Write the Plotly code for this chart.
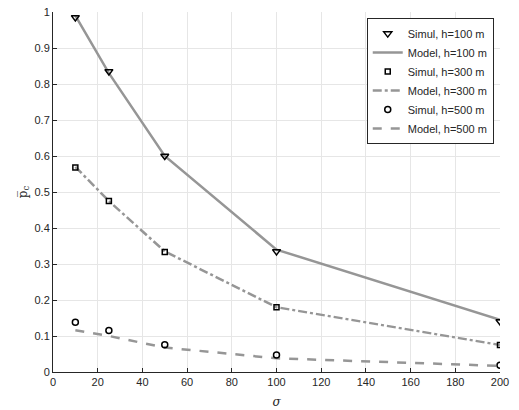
import plotly.graph_objects as go

sigma = [10, 25, 50, 100, 200]
simul_100 = [0.985, 0.835, 0.600, 0.335, 0.140]
model_100 = [0.990, 0.830, 0.600, 0.340, 0.145]
simul_300 = [0.568, 0.475, 0.333, 0.180, 0.075]
model_300 = [0.570, 0.475, 0.335, 0.180, 0.075]
simul_500 = [0.138, 0.115, 0.076, 0.047, 0.019]
model_500 = [0.116, 0.100, 0.068, 0.038, 0.017]

x_ticks = list(range(0, 201, 20))
y_ticks = [i / 10 for i in range(11)]
y_tick_labels = ["0", "0.1", "0.2", "0.3", "0.4", "0.5", "0.6", "0.7", "0.8", "0.9", "1"]

gray = "rgb(150,150,150)"
fig = go.Figure()

def simul(y, name, symbol, size):
    fig.add_trace(go.Scatter(x=sigma, y=y, mode="markers", name=name,
                             marker=dict(symbol=symbol, size=size, color="black",
                                         line=dict(color="black", width=1.5))))

def model(y, name, dash):
    fig.add_trace(go.Scatter(x=sigma, y=y, mode="lines", name=name,
                             line=dict(color=gray, width=2.5, dash=dash)))

model(model_100, "Model, h=100 m", "solid")
model(model_300, "Model, h=300 m", "dashdot")
model(model_500, "Model, h=500 m", "dash")
simul(simul_100, "Simul, h=100 m", "triangle-down-open", 7)
simul(simul_300, "Simul, h=300 m", "square-open", 5)
simul(simul_500, "Simul, h=500 m", "circle-open", 6)

order = ["Simul, h=100 m", "Model, h=100 m", "Simul, h=300 m", "Model, h=300 m",
         "Simul, h=500 m", "Model, h=500 m"]
for tr in fig.data:
    tr.legendrank = order.index(tr.name) + 1

fig.update_layout(
    width=519, height=410,
    margin=dict(l=53, r=19, t=12, b=38),
    paper_bgcolor="white", plot_bgcolor="white",
    font=dict(family="Liberation Sans, Arial", size=11, color="#262626"),
    showlegend=True,
    legend=dict(x=0.986, y=0.983, xanchor="right", yanchor="top",
                bgcolor="white", bordercolor="#262626", borderwidth=1,
                font=dict(size=11, color="#262626"), tracegroupgap=0,
                itemwidth=30),
    xaxis=dict(range=[0, 200], tickvals=x_ticks, showgrid=True, gridcolor="#e6e6e6",
               zeroline=False, showline=True, linecolor="#262626", linewidth=1,
               ticks="inside", ticklen=4, tickcolor="#262626", automargin=False,
               title=dict(text="σ", font=dict(family="DejaVu Serif, serif", size=12, style="italic"), standoff=10)),
    yaxis=dict(range=[0, 1], tickvals=y_ticks, ticktext=y_tick_labels, showgrid=True,
               gridcolor="#e6e6e6", zeroline=False, showline=True, linecolor="#262626",
               linewidth=1, ticks="inside", ticklen=4, tickcolor="#262626", automargin=False,
               title=dict(text="p\u0305<sub>c</sub>", font=dict(family="DejaVu Serif, serif", size=12), standoff=4)),
)

fig.write_html("out.html", config={"displayModeBar": False},
               post_script="document.body.style.margin='0';document.body.style.overflow='hidden';")
